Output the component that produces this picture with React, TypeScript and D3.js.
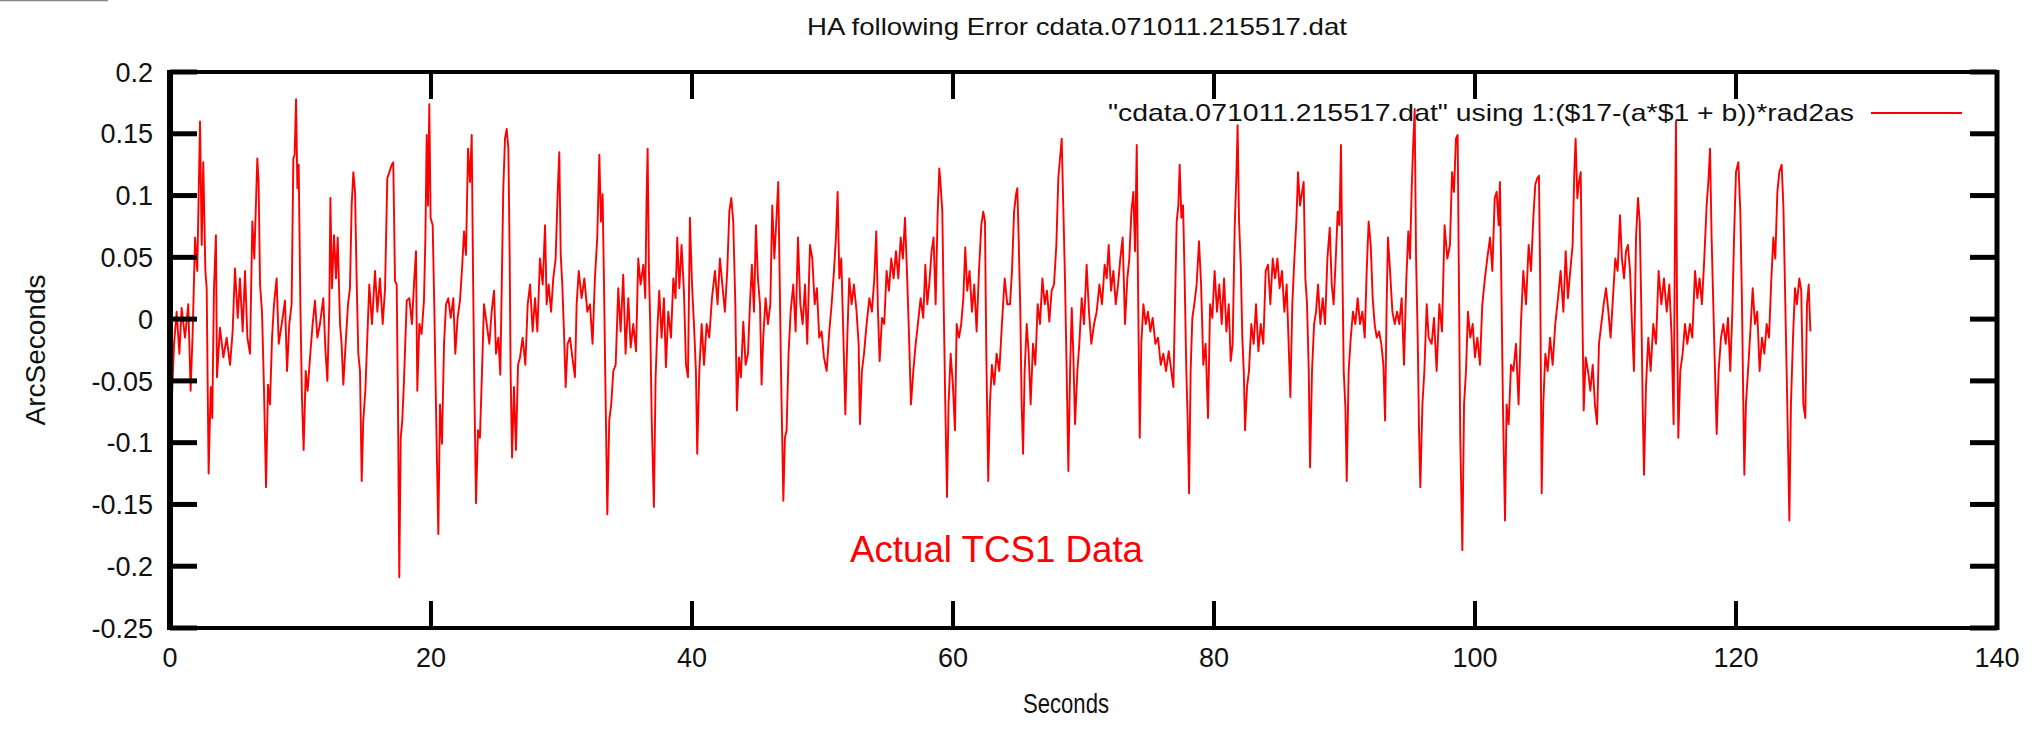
import React from 'react';
import * as d3 from 'd3';

const titleText = 'HA following Error cdata.071011.215517.dat';
const legendText = '"cdata.071011.215517.dat" using 1:($17-(a*$1 + b))*rad2as';
const noteText = 'Actual TCS1 Data';
const xLabel = 'Seconds';
const yLabel = 'ArcSeconds';

const xTicks = [0, 20, 40, 60, 80, 100, 120, 140];
const xTickLabels = ['0', '20', '40', '60', '80', '100', '120', '140'];
const yTicks = [0.2, 0.15, 0.1, 0.05, 0, -0.05, -0.1, -0.15, -0.2, -0.25];
const yTickLabels = ['0.2', '0.15', '0.1', '0.05', '0', '-0.05', '-0.1', '-0.15', '-0.2', '-0.25'];

// [seconds, arcseconds]
const seg1: [number, number][] = [
  [0.13,-0.069],[0.31,-0.020],[0.51,0.006],[0.72,-0.028],[0.89,0.009],[1.15,-0.015],[1.40,0.012],[1.58,-0.058],[1.74,-0.010],[1.92,0.066],
  [2.09,0.039],[2.30,0.160],[2.43,0.060],[2.55,0.127],[2.71,0.039],[2.81,0.025],[2.96,-0.125],[3.12,-0.055],[3.24,-0.080],[3.37,0.025],
  [3.52,0.068],[3.60,-0.047],[3.83,-0.007],[4.09,-0.031],[4.34,-0.015],[4.60,-0.037],[4.80,-0.010],[4.98,0.041],[5.19,0.001],[5.36,0.033],
  [5.57,-0.010],[5.75,0.039],[5.93,-0.015],[6.13,-0.028],[6.31,0.079],[6.46,0.049],[6.69,0.130],[6.79,0.111],[6.90,0.028],[7.05,0.006],
  [7.20,-0.055],[7.36,-0.136],[7.51,-0.053],[7.66,-0.069],[7.82,-0.015],[7.97,0.012],[8.17,0.033],[8.33,-0.020],[8.56,-0.004],[8.81,0.015],
  [8.97,-0.042],[9.14,-0.004],[9.32,0.012],[9.45,0.130],[9.55,0.133],[9.66,0.178],[9.76,0.106],[9.86,0.125],[9.99,0.012],[10.11,-0.063],
  [10.24,-0.106],[10.40,-0.042],[10.55,-0.058],[10.73,-0.031],[10.93,-0.004],[11.11,0.015],[11.29,-0.015],[11.49,-0.004],[11.75,0.017],[11.90,-0.023],
  [12.06,-0.050],[12.21,0.012],[12.29,0.098],[12.41,0.025],[12.57,0.068],[12.72,0.033],[12.85,0.066],[13.03,-0.004],[13.15,-0.020],[13.28,-0.053],
  [13.46,-0.020],[13.64,0.012],[13.79,0.025],[13.92,0.092],[14.05,0.119],[14.18,0.103],[14.30,0.033],[14.43,-0.028],[14.56,-0.042],[14.69,-0.131],
  [14.81,-0.082],[14.97,-0.058],[15.12,-0.015],[15.27,0.028],[15.48,-0.004],[15.71,0.039],[15.89,0.006],[16.09,0.033],[16.30,-0.004],[16.48,0.025],
  [16.65,0.114],[16.81,0.119],[16.99,0.125],[17.11,0.127],[17.24,0.031],[17.37,0.028],[17.47,-0.069],[17.57,-0.209],[17.68,-0.096],[17.80,-0.082],
  [17.93,-0.050],[18.14,0.015],[18.34,0.017],[18.54,-0.004],[18.72,0.033],[18.85,0.055],[18.95,-0.058],[19.11,-0.004],[19.28,-0.012],[19.46,0.015],
  [19.57,0.066],[19.67,0.149],[19.77,0.092],[19.87,0.174],[19.97,0.082],[20.13,0.076],[20.26,0.006],[20.38,-0.069],[20.56,-0.174],[20.69,-0.069],
  [20.84,-0.101],[21.00,-0.020],[21.15,0.012],[21.33,0.017],[21.51,0.001],[21.71,0.017],[21.86,-0.028],[22.04,0.001],[22.22,0.015],[22.38,0.041],
  [22.53,0.071],[22.68,0.052],[22.84,0.138],[22.99,0.111],[23.12,0.149],[23.22,0.039],[23.32,-0.055],[23.45,-0.149],[23.60,-0.090],[23.75,-0.096],
  [23.91,-0.042],[24.06,0.012],[24.27,-0.004],[24.47,-0.020],[24.65,0.006],[24.83,0.023],[24.98,-0.028],[25.16,-0.015],[25.31,-0.045],[25.44,0.039],
  [25.54,0.106],[25.67,0.146],[25.80,0.154],[25.93,0.138],[26.03,0.049],[26.10,-0.042],[26.21,-0.112],[26.36,-0.055],[26.51,-0.106],[26.67,-0.037],
  [26.82,-0.031],[27.02,-0.015],[27.23,-0.037],[27.41,0.012],[27.59,0.028],[27.79,-0.010],[27.97,0.017],[28.15,-0.010],[28.35,0.049],[28.56,0.028],
  [28.74,0.076],[28.86,0.012],[29.02,0.028],[29.20,0.006],[29.37,0.033],[29.55,0.049],[29.71,0.103],[29.83,0.135],[29.94,0.052],[30.06,0.028],
  [30.19,-0.010],[30.32,-0.055],[30.47,-0.020],[30.65,-0.015],[30.83,-0.031],[31.03,-0.047],[31.16,0.012],[31.32,0.039],[31.54,0.017],[31.75,0.033],
  [31.98,0.006],
];

const seg2: [number, number][] = [
  [32.18,0.012],[32.38,-0.020],[32.56,0.033],[32.74,0.066],[32.90,0.133],[33.02,0.079],[33.15,0.101],[33.25,0.033],[33.36,-0.050],[33.51,-0.158],
  [33.66,-0.082],[33.81,-0.069],[33.97,-0.042],[34.15,-0.037],[34.35,0.025],[34.53,-0.010],[34.73,0.036],[34.91,-0.028],[35.12,0.017],[35.30,-0.023],
  [35.50,-0.004],[35.71,-0.026],[35.88,0.049],[36.06,0.028],[36.27,0.044],[36.42,0.017],[36.52,0.098],[36.60,0.138],[36.70,0.039],[36.80,-0.004],
  [36.91,-0.080],[37.08,-0.152],[37.21,-0.047],[37.34,-0.010],[37.49,0.023],[37.67,-0.015],[37.85,0.017],[38.00,-0.039],[38.18,0.006],[38.39,-0.015],
  [38.57,0.033],[38.74,0.017],[38.87,0.066],[39.03,0.025],[39.20,0.060],[39.38,0.023],[39.54,-0.037],[39.69,-0.047],[39.84,0.082],[40.00,0.028],
  [40.15,-0.004],[40.30,-0.042],[40.40,-0.109],[40.56,-0.042],[40.74,-0.004],[40.92,-0.037],[41.12,-0.004],[41.32,-0.015],[41.53,0.017],[41.76,0.039],
  [41.96,0.012],[42.14,0.049],[42.35,0.025],[42.52,0.006],[42.70,0.039],[42.86,0.087],[43.01,0.098],[43.16,0.079],[43.32,0.012],[43.44,-0.074],
  [43.60,-0.031],[43.75,-0.047],[43.93,-0.002],[44.11,-0.037],[44.29,-0.028],[44.44,0.012],[44.59,0.044],[44.75,0.006],[44.90,0.076],[45.05,0.033],
  [45.21,0.012],[45.33,-0.053],[45.46,-0.015],[45.64,0.017],[45.82,-0.004],[46.00,0.012],[46.15,0.092],[46.31,0.049],[46.46,0.079],[46.61,0.111],
  [46.71,0.039],[46.82,-0.042],[47.00,-0.147],[47.12,-0.096],[47.25,-0.090],[47.40,-0.028],[47.56,0.006],[47.76,0.028],[47.94,-0.010],[48.12,0.066],
  [48.30,0.012],[48.48,-0.004],[48.66,0.028],[48.83,-0.020],[49.04,0.060],[49.22,0.049],[49.40,0.012],[49.57,0.025],[49.75,-0.015],[49.93,-0.010],
  [50.11,-0.031],[50.32,-0.042],[50.52,-0.010],[50.70,0.012],[50.88,0.039],[51.03,0.066],[51.16,0.103],[51.29,0.033],[51.44,0.049],[51.59,-0.010],
  [51.75,-0.077],[51.90,-0.015],[52.05,0.033],[52.23,0.012],[52.41,0.028],[52.61,0.006],[52.77,-0.020],[52.87,-0.085],[53.02,-0.042],[53.18,-0.028],
  [53.38,-0.004],[53.59,0.017],[53.79,0.006],[53.97,0.033],[54.12,0.071],[54.25,0.006],[54.38,-0.034],[54.56,0.001],[54.73,-0.004],[54.91,0.039],
  [55.09,0.023],[55.27,0.049],[55.45,0.033],[55.63,0.055],[55.81,0.033],[55.99,0.066],[56.16,0.049],[56.32,0.082],[56.47,0.039],[56.62,-0.010],
  [56.78,-0.069],[56.96,-0.042],[57.14,-0.020],[57.31,-0.004],[57.52,0.017],[57.72,0.001],[57.88,0.044],[58.03,0.012],[58.18,0.028],[58.36,0.055],
  [58.51,0.066],[58.67,0.012],[58.82,0.084],[58.95,0.122],[59.05,0.109],[59.18,0.087],[59.31,-0.004],[59.41,-0.069],[59.54,-0.144],[59.66,-0.069],
  [59.82,-0.028],[59.99,-0.053],[60.15,-0.090],[60.28,-0.004],[60.46,-0.015],[60.63,-0.004],[60.79,0.017],[60.94,0.058],[61.09,0.023],[61.27,0.039],
  [61.45,0.006],[61.63,0.028],[61.81,-0.010],[61.99,0.039],[62.17,0.076],[62.32,0.087],[62.45,0.079],[62.55,-0.026],[62.70,-0.131],[62.83,-0.069],
  [62.98,-0.037],[63.16,-0.053],[63.34,-0.028],[63.55,-0.042],[63.75,-0.004],[63.96,0.033],[64.16,0.012],
];

const seg3: [number, number][] = [
  [64.37,0.012],[64.52,0.039],[64.68,0.087],[64.83,0.101],[64.93,0.106],[65.03,0.066],[65.16,0.006],[65.26,-0.069],[65.37,-0.109],[65.49,-0.042],
  [65.65,-0.004],[65.80,-0.028],[65.95,-0.069],[66.13,-0.020],[66.31,-0.037],[66.49,0.012],[66.67,-0.004],[66.85,0.033],[67.03,0.012],[67.20,0.023],
  [67.38,-0.002],[67.56,0.023],[67.74,0.028],[67.92,0.060],[68.07,0.114],[68.20,0.130],[68.33,0.146],[68.46,0.087],[68.58,0.033],[68.71,-0.042],
  [68.84,-0.123],[68.97,-0.042],[69.10,0.009],[69.22,-0.028],[69.35,-0.085],[69.53,-0.042],[69.68,-0.020],[69.86,0.017],[70.04,-0.004],[70.24,0.044],
  [70.42,0.006],[70.60,-0.020],[70.81,-0.004],[71.01,0.006],[71.22,0.028],[71.42,0.012],[71.62,0.044],[71.78,0.033],[71.93,0.060],[72.11,0.023],
  [72.29,0.039],[72.47,0.012],[72.65,0.028],[72.82,0.049],[73.00,0.066],[73.18,-0.004],[73.36,0.033],[73.51,0.049],[73.67,0.087],[73.82,0.103],
  [73.95,0.055],[74.08,0.141],[74.18,0.025],[74.31,-0.096],[74.43,-0.020],[74.59,0.012],[74.77,-0.004],[74.94,0.006],[75.12,-0.010],[75.30,0.001],
  [75.51,-0.020],[75.71,-0.015],[75.92,-0.037],[76.12,-0.028],[76.32,-0.042],[76.53,-0.026],[76.73,-0.042],[76.89,-0.055],[77.01,0.012],[77.14,0.079],
  [77.27,0.092],[77.37,0.125],[77.50,0.082],[77.63,0.092],[77.75,0.033],[77.88,-0.042],[77.98,-0.080],[78.09,-0.141],[78.21,-0.042],[78.34,0.001],
  [78.49,0.012],[78.67,0.028],[78.85,0.063],[79.01,0.028],[79.18,-0.037],[79.36,-0.020],[79.54,-0.080],[79.70,0.012],[79.87,0.001],[80.05,0.039],
  [80.23,0.006],[80.41,0.028],[80.59,-0.004],[80.77,0.033],[80.95,-0.010],[81.13,0.012],[81.28,-0.034],[81.43,-0.020],[81.59,0.076],[81.71,0.114],
  [81.81,0.157],[81.92,0.079],[82.05,0.044],[82.17,-0.015],[82.28,-0.042],[82.38,-0.090],[82.53,-0.055],[82.68,-0.042],[82.86,-0.004],[83.04,-0.020],
  [83.22,0.012],[83.40,-0.026],[83.58,-0.004],[83.78,-0.020],[83.96,0.039],[84.14,0.044],[84.32,0.012],[84.50,0.049],[84.68,0.033],[84.86,0.049],
  [85.03,0.025],[85.21,0.039],[85.39,0.006],[85.57,0.028],[85.72,-0.020],[85.85,-0.063],[86.00,0.012],[86.16,0.049],[86.31,0.079],[86.44,0.119],
  [86.59,0.092],[86.75,0.103],[86.87,0.111],[87.00,0.033],[87.13,0.012],[87.26,-0.042],[87.36,-0.120],[87.51,-0.042],[87.67,-0.004],[87.82,0.006],
  [87.97,0.028],[88.15,-0.004],[88.33,0.017],[88.51,-0.004],[88.69,0.049],[88.87,0.074],[89.02,0.028],[89.17,0.012],[89.33,0.049],[89.48,0.087],
  [89.61,0.076],[89.73,0.141],[89.84,0.039],[89.94,-0.042],[90.07,-0.072],[90.17,-0.131],[90.32,-0.042],[90.48,-0.015],[90.65,0.006],[90.83,-0.004],
  [91.01,0.017],[91.19,-0.004],[91.37,0.006],[91.55,-0.015],[91.70,0.039],[91.85,0.079],[92.01,0.060],[92.16,0.017],[92.31,-0.004],[92.47,-0.015],
  [92.65,-0.010],[92.82,-0.020],[92.98,-0.037],[93.11,-0.082],[93.23,0.012],[93.33,0.066],[93.49,0.039],[93.67,0.006],[93.85,-0.004],[94.03,0.006],
  [94.20,-0.004],[94.38,0.017],[94.56,-0.037],[94.74,0.033],[94.89,0.071],[95.02,0.049],[95.15,0.106],[95.28,0.146],[95.38,0.170],[95.48,0.052],
  [95.61,-0.015],[95.71,-0.090],[95.81,-0.136],[95.97,-0.069],[96.12,-0.042],[96.30,0.012],[96.45,-0.015],
];

const seg4: [number, number][] = [
  [96.68,-0.020],[96.86,0.001],[97.06,-0.042],[97.27,0.012],[97.47,-0.010],[97.67,0.076],[97.88,0.049],[98.08,0.060],[98.24,0.119],[98.39,0.103],
  [98.54,0.146],[98.67,0.149],[98.77,0.028],[98.87,-0.096],[99.03,-0.187],[99.16,-0.069],[99.31,-0.042],[99.46,0.006],[99.64,-0.015],[99.82,-0.004],
  [100.00,-0.031],[100.18,-0.015],[100.38,-0.037],[100.56,0.012],[100.76,0.033],[100.94,0.049],[101.15,0.066],[101.33,0.039],[101.51,0.098],[101.66,0.103],
  [101.81,0.076],[101.91,0.111],[102.02,0.028],[102.14,-0.069],[102.30,-0.163],[102.42,-0.069],[102.58,-0.085],[102.76,-0.037],[102.94,-0.042],[103.14,-0.020],
  [103.34,-0.069],[103.52,-0.004],[103.70,0.039],[103.91,0.012],[104.11,0.060],[104.29,0.039],[104.47,0.082],[104.62,0.109],[104.77,0.114],[104.90,0.116],
  [105.00,0.028],[105.11,-0.141],[105.23,-0.069],[105.39,-0.028],[105.57,-0.042],[105.75,-0.015],[105.95,-0.037],[106.15,-0.004],[106.36,0.017],[106.56,0.039],
  [106.77,0.006],[106.95,0.055],[107.12,0.017],[107.30,0.039],[107.48,0.060],[107.61,0.119],[107.71,0.146],[107.84,0.098],[107.97,0.111],[108.10,0.119],
  [108.22,0.012],[108.33,-0.074],[108.48,-0.031],[108.66,-0.042],[108.84,-0.058],[109.02,-0.037],[109.19,-0.069],[109.35,-0.085],[109.50,-0.020],[109.68,-0.004],
  [109.86,0.012],[110.04,0.025],[110.22,0.006],[110.39,-0.015],[110.57,0.017],[110.75,0.049],[110.93,0.039],[111.11,0.084],[111.26,0.049],[111.42,0.033],
  [111.57,0.055],[111.72,0.060],[111.88,0.039],[112.03,-0.004],[112.18,-0.042],[112.34,0.066],[112.49,0.098],[112.62,0.079],[112.74,0.012],[112.85,-0.069],
  [112.95,-0.126],[113.10,-0.055],[113.28,-0.015],[113.46,-0.042],[113.66,-0.004],[113.87,-0.020],[114.07,0.039],[114.28,0.012],[114.48,0.033],[114.69,0.006],
  [114.89,0.028],[115.07,-0.015],[115.22,-0.085],[115.32,0.066],[115.40,0.160],[115.48,0.012],[115.58,-0.096],[115.73,-0.042],[115.91,-0.028],[116.09,-0.004],
  [116.27,-0.020],[116.47,-0.004],[116.65,-0.015],[116.86,0.039],[117.04,0.017],[117.21,0.033],[117.39,0.012],[117.57,0.049],[117.75,0.092],[117.88,0.111],
  [118.01,0.138],[118.13,0.066],[118.26,0.012],[118.39,-0.042],[118.52,-0.093],[118.67,-0.042],[118.85,-0.015],[119.03,-0.004],[119.21,-0.020],[119.39,0.001],
  [119.56,-0.042],[119.72,0.006],[119.85,0.066],[120.00,0.119],[120.18,0.127],[120.33,0.087],[120.46,0.012],[120.56,-0.069],[120.64,-0.126],[120.76,-0.069],
  [120.92,-0.042],[121.10,-0.010],[121.28,0.025],[121.45,-0.004],[121.63,0.006],[121.81,-0.042],[121.99,-0.015],[122.17,-0.028],[122.35,-0.004],[122.53,-0.015],
  [122.71,0.033],[122.86,0.066],[123.01,0.049],[123.17,0.103],[123.32,0.119],[123.50,0.125],[123.63,0.092],[123.73,0.039],[123.83,-0.015],[123.93,-0.069],
  [124.09,-0.163],[124.21,-0.069],[124.37,-0.015],[124.52,0.025],[124.67,0.012],[124.85,0.033],[125.00,0.023],[125.16,-0.069],[125.31,-0.080],[125.44,0.012],
  [125.57,0.028],[125.70,-0.010],
];

const series = [...seg1, ...seg2, ...seg3, ...seg4];

const W = 2040;
const H = 729;
const left = 170;
const right = 1997;
const top = 72;
const bottom = 628;

export default function App() {
  const x = d3.scaleLinear().domain([0, 140]).range([left, right]);
  const y = d3.scaleLinear().domain([-0.25, 0.2]).range([bottom, top]);
  const line = d3
    .line<[number, number]>()
    .x((d) => x(d[0]))
    .y((d) => y(d[1]));
  const tickLen = 27;
  const font = '"Liberation Sans", Arial, Helvetica, sans-serif';

  return (
    <svg
      width={W}
      height={H}
      viewBox={`0 0 ${W} ${H}`}
      style={{ position: 'absolute', left: 0, top: 0, background: '#fff' }}
      fontFamily={font}
    >
      <rect x={0} y={0} width={W} height={H} fill="#fff" />
      <line x1={0} x2={108} y1={0.5} y2={0.5} stroke="#888" strokeWidth={1.5} />

      {/* data */}
      <path d={line(series) || ''} fill="none" stroke="#ff0000" strokeWidth={1.9} strokeLinejoin="round" />

      {/* frame */}
      <line x1={left} x2={right} y1={top} y2={top} stroke="#000" strokeWidth={4} />
      <line x1={left} x2={right} y1={bottom} y2={bottom} stroke="#000" strokeWidth={4} />
      <line x1={left} x2={left} y1={top - 2} y2={bottom + 2} stroke="#000" strokeWidth={6} />
      <line x1={right} x2={right} y1={top - 2} y2={bottom + 2} stroke="#000" strokeWidth={5} />

      {/* y ticks */}
      {yTicks.map((v, i) => (
        <g key={'y' + i}>
          <line x1={left} x2={left + tickLen} y1={y(v)} y2={y(v)} stroke="#000" strokeWidth={5} />
          <line x1={right - tickLen} x2={right} y1={y(v)} y2={y(v)} stroke="#000" strokeWidth={5} />
          <text x={153} y={y(v)} dy="0.36em" textAnchor="end" fontSize={27} fill="#111">
            {yTickLabels[i]}
          </text>
        </g>
      ))}

      {/* x ticks */}
      {xTicks.map((v, i) => (
        <g key={'x' + i}>
          <line x1={x(v)} x2={x(v)} y1={top} y2={top + tickLen} stroke="#000" strokeWidth={4} />
          <line x1={x(v)} x2={x(v)} y1={bottom - tickLen} y2={bottom} stroke="#000" strokeWidth={4} />
          <text x={x(v)} y={667} textAnchor="middle" fontSize={27} fill="#111">
            {xTickLabels[i]}
          </text>
        </g>
      ))}

      {/* title */}
      <text x={807} y={35} fontSize={24} fill="#111" textLength={540} lengthAdjust="spacingAndGlyphs">
        {titleText}
      </text>

      {/* legend */}
      <text x={1108} y={121} fontSize={24} fill="#111" textLength={746} lengthAdjust="spacingAndGlyphs">
        {legendText}
      </text>
      <line x1={1871} x2={1962} y1={113} y2={113} stroke="#ff0000" strokeWidth={2} />

      {/* annotation */}
      <text x={850} y={562} fontSize={36} fill="#ff0000" textLength={293} lengthAdjust="spacingAndGlyphs">
        {noteText}
      </text>

      {/* axis labels */}
      <text x={1066} y={713} textAnchor="middle" fontSize={27} fill="#111" textLength={86} lengthAdjust="spacingAndGlyphs">
        {xLabel}
      </text>
      <text transform="translate(45,350) rotate(-90)" textAnchor="middle" fontSize={28} fill="#111">
        {yLabel}
      </text>
    </svg>
  );
}
